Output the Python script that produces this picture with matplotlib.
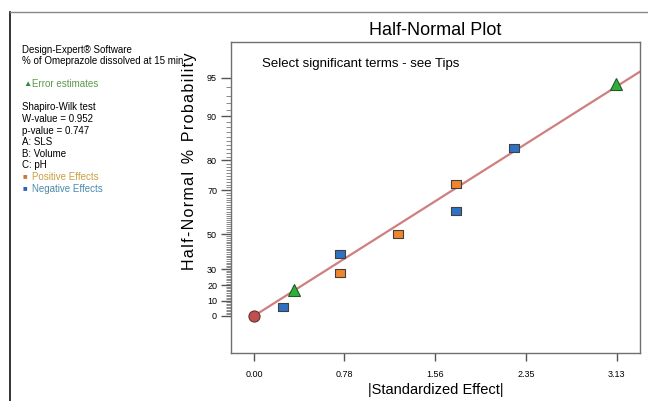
import numpy as np
import matplotlib
matplotlib.use("Agg")
import matplotlib.pyplot as plt
from statistics import NormalDist

plt.rcParams['font.family'] = ['Liberation Sans', 'DejaVu Sans']

# ---- data ----
effects = [0.247, 0.345, 0.741, 0.741, 1.244, 1.741, 1.741, 2.241, 3.12]
probs = [5.6, 16.7, 27.8, 38.9, 50.0, 61.1, 72.2, 83.3, 94.4]
kinds = ['neg', 'err', 'pos', 'neg', 'pos', 'neg', 'pos', 'neg', 'err']
fit_slope_z = 0.604          # half-normal quantile per unit effect
xticks = [0.00, 0.78, 1.56, 2.35, 3.13]
yticks = [0, 10, 20, 30, 50, 70, 80, 90, 95]

ND = NormalDist()

def fwd(p):
    p = np.clip(np.asarray(p, dtype=float), -99.999, 99.999)
    return np.vectorize(lambda v: ND.inv_cdf(0.5 + v / 200.0))(p)

def inv(z):
    z = np.asarray(z, dtype=float)
    return np.vectorize(lambda v: (2 * ND.cdf(v) - 1) * 100.0)(z)

fig = plt.figure(figsize=(6.48, 4.01), dpi=100)
W, H = 648, 401
ax = fig.add_axes([231 / W, 1 - 353 / H, (640 - 231) / W, (353 - 42) / H])
ax.set_yscale('function', functions=(fwd, inv))

xmin, xmax = -0.198, 3.33
ax.set_xlim(xmin, xmax)
ax.set_ylim(float(inv(-0.305)), float(inv(2.255)))

# fitted line
lx = np.array([0.0, xmax])
ax.plot(lx, inv(fit_slope_z * lx), color='#cf7f7f', lw=1.6, zorder=2, clip_on=True)

rect = [(-1.3, -1), (1.3, -1), (1.3, 1), (-1.3, 1), (-1.3, -1)]
colors = {'neg': '#2f72c4', 'pos': '#f0852c', 'err': '#2fae3c'}
for x, p, k in zip(effects, probs, kinds):
    if k == 'err':
        ax.plot(x, p, marker='^', ms=8, mfc=colors[k], mec='#1f5a25', mew=0.8,
                ls='none', zorder=3)
    else:
        ax.plot(x, p, marker=rect, ms=7.5, mfc=colors[k], mec='#404040', mew=0.8,
                ls='none', zorder=3)
ax.plot(0, 0, marker='o', ms=8, mfc='#c05050', mec='#6a3030', mew=0.8,
        ls='none', zorder=4, clip_on=False)

# axes styling
for s in ax.spines.values():
    s.set_color('#707070')
    s.set_linewidth(1.0)
ax.set_xticks(xticks)
ax.set_xticklabels([f'{v:.2f}' for v in xticks], fontsize=6.5)
ax.set_yticks(yticks)
ax.set_yticklabels([str(v) for v in yticks], fontsize=6.5)
ax.set_yticks([v for v in range(1, 95) if v not in yticks], minor=True)
ax.tick_params(axis='x', length=6, width=1, color='#555555', pad=6)
ax.tick_params(axis='y', which='major', length=7, width=1, color='#555555', pad=3)
ax.tick_params(axis='y', which='minor', length=3.5, width=0.6, color='#777777')
ax.set_xlabel('|Standardized Effect|', fontsize=10.5, labelpad=3)
hs = '\u200a'
ylab = hs.join('Half-Normal') + ' \u2009%\u2009 ' + hs.join('Probability')
ax.set_ylabel(ylab, fontsize=11.5)
ax.yaxis.set_label_coords(-0.082, 0.616)
ax.set_title('Half-Normal Plot', fontsize=13, pad=5)

ax.text(0.075, 0.93, 'Select significant terms - see Tips', transform=ax.transAxes,
        fontsize=9.5, va='center', ha='left')

# left info panel
def ft(x, y, s, size=7, **kw):
    fig.text(x / W, 1 - y / H, s, fontsize=size, va='center', ha='left', **kw)

ft(22, 50, 'Design-Expert\u00ae Software')
ft(22, 61.5, '% of Omeprazole dissolved at 15 min')
ft(23, 84, '\u25b2', color='#2f8a3a', size=6)
ft(32, 84, 'Error estimates', color='#5a9a4a')
ft(22, 107.5, 'Shapiro-Wilk test')
ft(22, 119, 'W-value = 0.952')
ft(22, 130.5, 'p-value = 0.747')
ft(22, 142, 'A: SLS')
ft(22, 154, 'B: Volume')
ft(22, 165.5, 'C: pH')
ft(23, 177, '\u25a0', color='#d07830', size=5.5)
ft(32, 177, 'Positive Effects', color='#c8a040')
ft(23, 189, '\u25a0', color='#2f62b0', size=5.5)
ft(32, 189, 'Negative Effects', color='#4a8aaa')

# page frame
fig.add_artist(plt.Line2D([10 / W, 10 / W], [0, 1 - 12 / H], transform=fig.transFigure,
                          color='#222222', lw=1.3))
fig.add_artist(plt.Line2D([10 / W, 1], [1 - 12 / H, 1 - 12 / H], transform=fig.transFigure,
                          color='#888888', lw=1.0))

fig.savefig('out.png', dpi=100)
